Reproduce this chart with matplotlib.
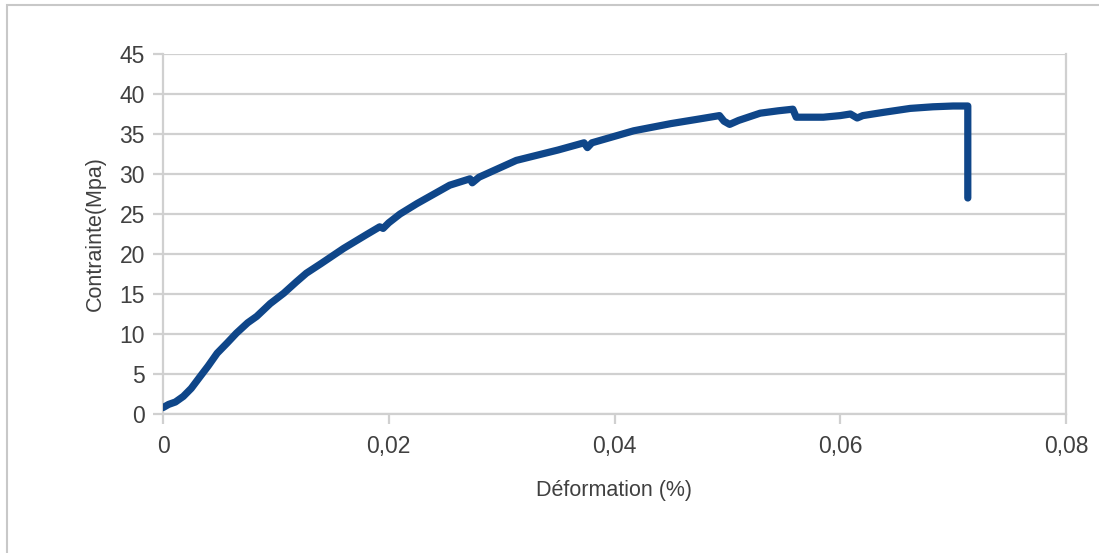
import matplotlib
matplotlib.use('Agg')
import matplotlib.pyplot as plt
from matplotlib.patches import Rectangle
from matplotlib.ticker import FuncFormatter

plt.rcParams['font.family'] = ['Liberation Sans', 'DejaVu Sans']

# Courbe contrainte / déformation
deformation = [0, 0.0005, 0.0011, 0.0018, 0.0025, 0.0033, 0.0040, 0.0048, 0.0057, 0.0065,
               0.0075, 0.0083, 0.0095, 0.0107, 0.0118, 0.0127, 0.0140, 0.0160, 0.0180, 0.0192,
               0.0195, 0.0200, 0.0210, 0.0225, 0.0254, 0.0272, 0.0274, 0.0280, 0.0313, 0.0350,
               0.0373, 0.0376, 0.0380, 0.0417, 0.0450, 0.0476, 0.0493, 0.0497, 0.0502, 0.0510,
               0.0529, 0.0545, 0.0558, 0.0561, 0.0585, 0.0600, 0.0609, 0.0615, 0.0620, 0.0638,
               0.0662, 0.0682, 0.0700, 0.0713, 0.0713]
contrainte = [0.8, 1.2, 1.5, 2.2, 3.2, 4.7, 6.0, 7.6, 8.9, 10.1,
              11.4, 12.2, 13.8, 15.1, 16.5, 17.6, 18.8, 20.7, 22.4, 23.4,
              23.2, 23.9, 25.0, 26.3, 28.6, 29.4, 28.9, 29.6, 31.7, 33.0,
              33.9, 33.3, 33.9, 35.4, 36.3, 36.9, 37.3, 36.6, 36.2, 36.7,
              37.6, 37.9, 38.1, 37.1, 37.1, 37.3, 37.5, 37.0, 37.3, 37.7,
              38.2, 38.4, 38.5, 38.5, 27.0]

xticks = [0, 0.02, 0.04, 0.06, 0.08]
yticks = [0, 5, 10, 15, 20, 25, 30, 35, 40, 45]

grid_col = '#d0d0d0'
text_col = '#404040'

fig = plt.figure(figsize=(10.99, 5.53), dpi=100)

# cadre extérieur du graphique (gauche + haut visibles)
fig.patches.append(Rectangle((7 / 1099, -0.1), 1.2, (553 - 5) / 553 + 0.1,
                             transform=fig.transFigure, fill=False,
                             edgecolor='#c8c8c8', linewidth=1.5))

ax = fig.add_axes([163 / 1099, (553 - 414) / 553, (1066 - 163) / 1099, (414 - 54) / 553])

ax.plot(deformation, contrainte, color='#0f4689', linewidth=5.2,
        solid_joinstyle='round', solid_capstyle='round', zorder=3)

ax.set_xlim(0, 0.08)
ax.set_ylim(0, 45)
ax.set_xticks(xticks)
ax.set_yticks(yticks)
ax.xaxis.set_major_formatter(FuncFormatter(lambda v, p: '0' if v == 0 else ('%.2f' % v).replace('.', ',')))

ax.grid(axis='y', color=grid_col, linewidth=1.6, zorder=0)
ax.set_axisbelow(True)
ax.spines['top'].set_visible(False)
for s in ['left', 'bottom', 'right']:
    ax.spines[s].set_color(grid_col)
    ax.spines[s].set_linewidth(1.6)

ax.tick_params(axis='both', colors=grid_col, labelcolor=text_col, labelsize=16.5,
               length=7, width=1.6)
ax.tick_params(axis='x', pad=8)
ax.tick_params(axis='y', pad=6)

ax.set_xlabel('Déformation (%)', fontsize=15.5, color=text_col, labelpad=16)
ax.set_ylabel('Contrainte(Mpa)', fontsize=15.5, color=text_col, labelpad=10)

fig.savefig('out.png', dpi=100)
